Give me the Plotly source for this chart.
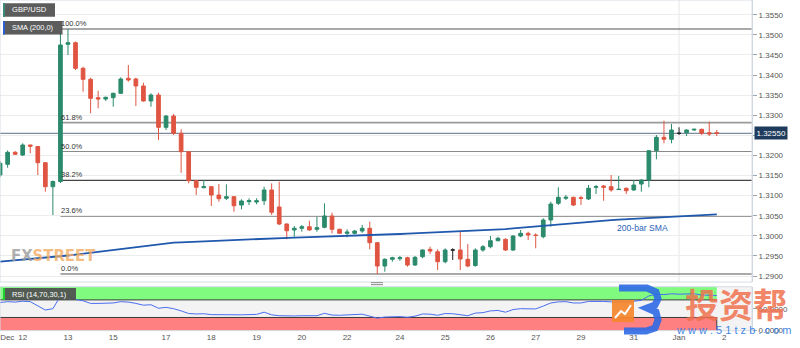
import plotly.graph_objects as go

# GBP/USD 4-hour bars, Dec 11 - Jan 1
bar_open = [1.31513, 1.31779, 1.32077, 1.32010, 1.32259, 1.32222, 1.31819, 1.31222, 1.31351, 1.34764,
            1.34804, 1.34167, 1.33893, 1.33436, 1.33403, 1.33436, 1.33545, 1.33918, 1.33901, 1.33727,
            1.33354, 1.33503, 1.32699, 1.32980, 1.32550, 1.32092, 1.31371, 1.31197, 1.31222, 1.31015,
            1.30933, 1.30973, 1.30766, 1.30849, 1.30841, 1.30873, 1.31140, 1.30717, 1.30294, 1.30145,
            1.30187, 1.30227, 1.30162, 1.30212, 1.30493, 1.30162, 1.30062, 1.30062, 1.30120, 1.30187,
            1.29829, 1.29249, 1.29416, 1.29431, 1.29455, 1.29274, 1.29480, 1.29664, 1.29605, 1.29356,
            1.29647, 1.29647, 1.29416, 1.29261, 1.29647, 1.29729, 1.29878, 1.29913, 1.29647, 1.29995,
            1.30062, 1.30020, 1.29978, 1.30393, 1.30809, 1.30933, 1.30958, 1.30948, 1.30916, 1.31207,
            1.31239, 1.31222, 1.31150, 1.31182, 1.31140, 1.31289, 1.31388, 1.32117, 1.32451, 1.32401,
            1.32550, 1.32565, 1.32632, 1.32650, 1.32565, 1.32566]
bar_high = [1.31861, 1.32122, 1.32110, 1.32301, 1.32266, 1.32234, 1.31836, 1.31376, 1.35045, 1.35145,
            1.34834, 1.34207, 1.33933, 1.33610, 1.33461, 1.33560, 1.33943, 1.34249, 1.33933, 1.33809,
            1.33545, 1.33560, 1.33005, 1.33030, 1.32650, 1.32110, 1.31388, 1.31388, 1.31239, 1.31289,
            1.31281, 1.30990, 1.30908, 1.30933, 1.30933, 1.31222, 1.31306, 1.31346, 1.30311, 1.30244,
            1.30269, 1.30376, 1.30475, 1.30809, 1.30575, 1.30177, 1.30162, 1.30145, 1.30269, 1.30351,
            1.29846, 1.29441, 1.29480, 1.29498, 1.29480, 1.29498, 1.29664, 1.29729, 1.29664, 1.29689,
            1.29689, 1.30120, 1.29796, 1.29689, 1.29771, 1.29995, 1.29978, 1.29938, 1.30020, 1.30145,
            1.30102, 1.30062, 1.30436, 1.30849, 1.31207, 1.31015, 1.30973, 1.30990, 1.31264, 1.31264,
            1.31264, 1.31513, 1.31488, 1.31207, 1.31388, 1.31406, 1.32135, 1.32508, 1.32864, 1.32781,
            1.32699, 1.32650, 1.32664, 1.32664, 1.32839, 1.32632]
bar_low = [1.31463, 1.31694, 1.32010, 1.31985, 1.32053, 1.31513, 1.31097, 1.30518, 1.31314, 1.34498,
           1.34125, 1.33585, 1.33048, 1.33172, 1.33354, 1.33212, 1.33528, 1.33834, 1.33229, 1.33336,
           1.33212, 1.32383, 1.32632, 1.32508, 1.31570, 1.31306, 1.31015, 1.31182, 1.30742, 1.30849,
           1.30891, 1.30600, 1.30659, 1.30766, 1.30784, 1.30766, 1.30518, 1.30269, 1.29913, 1.29978,
           1.30102, 1.30127, 1.30102, 1.30187, 1.30062, 1.30045, 1.29963, 1.30038, 1.30077, 1.29664,
           1.29050, 1.29107, 1.29356, 1.29381, 1.29232, 1.29249, 1.29441, 1.29548, 1.29150, 1.29316,
           1.29398, 1.29150, 1.29217, 1.29232, 1.29605, 1.29689, 1.29863, 1.29622, 1.29622, 1.29963,
           1.29896, 1.29689, 1.29938, 1.30227, 1.30766, 1.30891, 1.30742, 1.30766, 1.30891, 1.31040,
           1.30873, 1.31097, 1.31140, 1.31040, 1.31122, 1.31097, 1.31207, 1.31903, 1.32301, 1.32301,
           1.32508, 1.32483, 1.32615, 1.32508, 1.32483, 1.32483]
bar_close = [1.31804, 1.32077, 1.32028, 1.32259, 1.32227, 1.31819, 1.31222, 1.31351, 1.34747, 1.34804,
             1.34167, 1.33893, 1.33421, 1.33403, 1.33446, 1.33545, 1.33901, 1.33876, 1.33727, 1.33354,
             1.33503, 1.32699, 1.32980, 1.32550, 1.32092, 1.31371, 1.31207, 1.31222, 1.31015, 1.30923,
             1.30973, 1.30749, 1.30866, 1.30873, 1.30873, 1.31140, 1.30585, 1.30294, 1.30127, 1.30187,
             1.30227, 1.30145, 1.30202, 1.30493, 1.30162, 1.30062, 1.30095, 1.30120, 1.30187, 1.29829,
             1.29249, 1.29416, 1.29455, 1.29455, 1.29274, 1.29465, 1.29647, 1.29622, 1.29356, 1.29647,
             1.29647, 1.29423, 1.29249, 1.29647, 1.29729, 1.29878, 1.29938, 1.29647, 1.29995, 1.30062,
             1.30020, 1.30008, 1.30393, 1.30791, 1.30958, 1.30958, 1.30766, 1.30933, 1.31182, 1.31222,
             1.31207, 1.31140, 1.31157, 1.31122, 1.31264, 1.31388, 1.32117, 1.32451, 1.32401, 1.32632,
             1.32550, 1.32632, 1.32650, 1.32550, 1.32533, 1.32550]

# 200-bar simple moving average
sma_200 = [1.29356, 1.29372, 1.29388, 1.29404, 1.29421, 1.29437, 1.29453, 1.29469, 1.29485, 1.29510,
           1.29534, 1.29558, 1.29582, 1.29606, 1.29630, 1.29654, 1.29678, 1.29702, 1.29726, 1.29750,
           1.29774, 1.29798, 1.29821, 1.29830, 1.29839, 1.29848, 1.29857, 1.29866, 1.29875, 1.29884,
           1.29893, 1.29902, 1.29912, 1.29921, 1.29927, 1.29933, 1.29939, 1.29944, 1.29950, 1.29956,
           1.29962, 1.29967, 1.29973, 1.29979, 1.29985, 1.29991, 1.29997, 1.30003, 1.30008, 1.30014,
           1.30020, 1.30028, 1.30036, 1.30045, 1.30053, 1.30061, 1.30069, 1.30077, 1.30086, 1.30094,
           1.30102, 1.30110, 1.30118, 1.30127, 1.30135, 1.30143, 1.30152, 1.30168, 1.30184, 1.30201,
           1.30217, 1.30233, 1.30250, 1.30266, 1.30282, 1.30299, 1.30315, 1.30331, 1.30348, 1.30364,
           1.30381, 1.30391, 1.30401, 1.30412, 1.30422, 1.30432, 1.30443, 1.30453, 1.30463, 1.30473,
           1.30484, 1.30494, 1.30504, 1.30514, 1.30525, 1.30535]

# RSI(14)
rsi_14 = [64, 66, 65, 67, 66, 57, 47, 50, 79, 79,
          71, 68, 62, 62, 62, 63, 66, 65, 62, 58,
          59, 51, 53, 50, 45, 39, 38, 38.5, 36.5, 36,
          36.5, 35, 36, 36.5, 37, 42, 36, 34, 33, 33.5,
          34, 33.5, 34, 39.5, 35.5, 35, 35.5, 36, 37.5, 33,
          28.5, 31, 31.5, 32, 30.5, 33, 38, 37.5, 35, 39,
          38.5, 35.5, 34, 40, 41, 45, 46, 42, 48, 50,
          49.5, 49.5, 56, 63, 65.5, 66, 63, 63, 66.5, 67,
          66.5, 65.5, 65.5, 65, 67, 69, 79, 83, 82, 84,
          83, 84, 84, 81, 81, 80]
rsi_levels = [30, 70]

price_ticks = [1.2900, 1.2950, 1.3000, 1.3050, 1.3100, 1.3150, 1.3200, 1.3250,
               1.3300, 1.3350, 1.3400, 1.3450, 1.3500, 1.3550]
day_tick_pos = [0.95, 3, 9, 15, 22, 28, 34, 40, 46, 53, 59, 65, 71, 77, 84, 90, 96]
day_tick_text = ["Dec", "12", "13", "15", "17", "18", "19", "20", "22", "24", "25",
                 "26", "27", "29", "31", "Jan", "2"]

fib_ratios = [0.0, 0.236, 0.382, 0.5, 0.618, 1.0]
fib_start_bar = 8

# ---------------------------------------------------------------------------
GREEN = "#2b8a6c"
RED = "#e05542"
FONT = "Liberation Sans, Arial, sans-serif"

W_PLOT, H_PLOT = 752, 331          # plot area in pixels (800x348 minus margins)
X_MIN, X_MAX = -0.01, 99.67
Y_MIN, Y_MAX = 1.28851, 1.35866


def px_x(x):
    return x / W_PLOT


def px_y(y):
    return (H_PLOT - y) / H_PLOT


n = len(bar_close)
xs = list(range(n))
doji = [i for i in xs if bar_open[i] == bar_close[i]]
body = [i for i in xs if bar_open[i] != bar_close[i]]
last = bar_close[-1]


def pick(arr, idx):
    return [arr[i] for i in idx]


fig = go.Figure()

fig.add_trace(go.Candlestick(
    x=body, open=pick(bar_open, body), high=pick(bar_high, body),
    low=pick(bar_low, body), close=pick(bar_close, body),
    increasing=dict(line=dict(color=GREEN, width=1), fillcolor=GREEN),
    decreasing=dict(line=dict(color=RED, width=1), fillcolor=RED),
    whiskerwidth=0, showlegend=False, xaxis="x", yaxis="y"))

fig.add_trace(go.Candlestick(
    x=doji, open=pick(bar_open, doji), high=pick(bar_high, doji),
    low=pick(bar_low, doji), close=pick(bar_close, doji),
    increasing=dict(line=dict(color="#222222", width=1), fillcolor="#222222"),
    decreasing=dict(line=dict(color="#222222", width=1), fillcolor="#222222"),
    whiskerwidth=0, showlegend=False, xaxis="x", yaxis="y"))

fig.add_trace(go.Scatter(
    x=xs, y=sma_200, mode="lines", line=dict(color="#1f58ad", width=1.8),
    showlegend=False, hoverinfo="skip", xaxis="x", yaxis="y"))

fig.add_trace(go.Scatter(
    x=xs, y=rsi_14, mode="lines", line=dict(color="#4a6ef0", width=1),
    showlegend=False, hoverinfo="skip", xaxis="x2", yaxis="y2"))

shapes = []
annotations = []

# RSI panel background and overbought / oversold bands
shapes.append(dict(type="rect", xref="x2 domain", yref="y2 domain", x0=0, x1=1, y0=0, y1=1,
                   fillcolor="#f3f3f3", line=dict(width=0), layer="below"))
shapes.append(dict(type="rect", xref="x2", yref="y2", x0=X_MIN, x1=xs[-1], y0=rsi_levels[1], y1=100,
                   fillcolor="#80fb80", line=dict(width=0), layer="below"))
shapes.append(dict(type="rect", xref="x2", yref="y2", x0=X_MIN, x1=xs[-1], y0=0, y1=rsi_levels[0],
                   fillcolor="#ff8080", line=dict(width=0), layer="below"))
for lvl in rsi_levels:
    shapes.append(dict(type="line", xref="x2", yref="y2", x0=X_MIN, x1=xs[-1], y0=lvl, y1=lvl,
                       line=dict(color="#3c3c3c", width=1), layer="below"))
shapes.append(dict(type="line", xref="x2", yref="y2", x0=xs[-1], x1=xs[-1], y0=0, y1=rsi_levels[0],
                   line=dict(color="#3c3c3c", width=1), layer="below"))

# month boundary
jan_pos = day_tick_pos[day_tick_text.index("Jan")]
shapes.append(dict(type="line", xref="x", yref="y domain", x0=jan_pos, x1=jan_pos, y0=0, y1=1,
                   line=dict(color="#e6e6e6", width=1), layer="below"))

# Fibonacci retracement of the swing high/low
swing_hi, swing_lo = max(bar_high), min(bar_low)
fib_colors = {0.0: "#555555", 0.236: "#9a9a9a", 0.382: "#444444",
              0.5: "#8a8a8a", 0.618: "#9a9a9a", 1.0: "#555555"}
fib_widths = {0.0: 1.2, 0.236: 1.6, 0.382: 1.2, 0.5: 1.2, 0.618: 1.6, 1.0: 1.2}
for r in fib_ratios:
    lvl = swing_lo + r * (swing_hi - swing_lo)
    shapes.append(dict(type="line", xref="x", yref="y", x0=fib_start_bar, x1=X_MAX, y0=lvl, y1=lvl,
                       line=dict(color=fib_colors[r], width=fib_widths[r]), layer="below"))
    annotations.append(dict(x=fib_start_bar, y=lvl, xref="x", yref="y", xanchor="left",
                            yanchor="bottom", text=f"{r * 100:.1f}%", showarrow=False,
                            font=dict(family=FONT, size=7.5, color="#333333"), borderpad=0))

# last price line and tag (the tag sits over the axis label at the same level)
shapes.append(dict(type="line", xref="x domain", yref="y", x0=0, x1=1, y0=last, y1=last,
                   line=dict(color="#5a6f88", width=1), layer="below"))
annotations.append(dict(x=px_x(771), y=last, xref="paper", yref="y", xanchor="center",
                        yanchor="middle", text=f"{last:.5f}", showarrow=False,
                        bgcolor="#1e3a5c", font=dict(family=FONT, size=8, color="white"),
                        borderpad=1.5))
price_ticktext = ["" if abs(t - last) < 0.0015 else f"{t:.4f}" for t in price_ticks]

# frames
shapes.append(dict(type="rect", xref="x domain", yref="y domain", x0=0, x1=1, y0=0, y1=1,
                   line=dict(color="#d6dce4", width=1)))
shapes.append(dict(type="rect", xref="x2 domain", yref="y2 domain", x0=0, x1=1, y0=0, y1=1,
                   line=dict(color="#d6dce4", width=1)))
# panel resize grip
for gy in (282.6, 284.6):
    shapes.append(dict(type="line", xref="paper", yref="paper", x0=px_x(371), x1=px_x(383),
                       y0=px_y(gy), y1=px_y(gy), line=dict(color="#9a9a9a", width=1.2)))


# legend tags
def tag(x0, x1, y0, y1, accent, label, size):
    shapes.append(dict(type="rect", xref="paper", yref="paper", x0=px_x(x0), x1=px_x(x1),
                       y0=px_y(y1), y1=px_y(y0), fillcolor="rgba(78,78,78,0.92)",
                       line=dict(width=0)))
    shapes.append(dict(type="rect", xref="paper", yref="paper", x0=px_x(x0), x1=px_x(x0 + 2),
                       y0=px_y(y1), y1=px_y(y0), fillcolor=accent, line=dict(width=0)))
    annotations.append(dict(x=px_x(x0 + 7), y=px_y((y0 + y1) / 2), xref="paper", yref="paper",
                            xanchor="left", yanchor="middle", text=label, showarrow=False,
                            font=dict(family=FONT, size=size, color="white")))


tag(3, 55, 3.3, 16.7, "#3a8a78", "GBP/USD", 7.6)
tag(3, 62.5, 21, 34.5, "#2d5fd0", "SMA (200,0)", 7.4)
tag(3, 76, 288, 300, "#22cc33", "RSI (14,70,30,1)", 7.4)

annotations.append(dict(x=85.2, y=1.30195, xref="x", yref="y", xanchor="center", yanchor="middle",
                        text="200-bar SMA", showarrow=False,
                        font=dict(family=FONT, size=8.6, color="#2a62b8")))

# publisher marks
annotations.append(dict(x=px_x(9), y=px_y(255.5), xref="paper", yref="paper", xanchor="left",
                        yanchor="middle", showarrow=False, opacity=0.8,
                        text="<b><span style='color:#9c9c9c'>FX</span>"
                             "<span style='color:#f2ad66'>STREET</span></b>",
                        font=dict(family="Liberation Sans Narrow, DejaVu Sans Condensed, sans-serif",
                                  size=16.5)))
annotations.append(dict(x=px_x(736), y=px_y(303.5), xref="paper", yref="paper", xanchor="center",
                        yanchor="middle", text="<b>投资帮</b>", showarrow=False, borderpad=0,
                        font=dict(family="Noto Sans CJK SC", size=34, color="rgba(240,112,78,0.85)")))
annotations.append(dict(x=px_x(733), y=px_y(329.5), xref="paper", yref="paper", xanchor="center",
                        yanchor="middle", text="w w w . 5 1 t z b . c o m", showarrow=False,
                        font=dict(family=FONT, size=11, color="rgba(50,125,225,0.95)")))


def pth(points):
    return "M " + " L ".join(f"{px_x(a):.5f},{px_y(b):.5f}" for a, b in points)


logo_blue = [(619, 288), (647, 288), (656, 292), (658, 299), (655, 305), (647, 308),
             (656, 312), (658, 320), (655, 328), (646, 331), (624, 331)]
shapes.append(dict(type="path", xref="paper", yref="paper", path=pth(logo_blue),
                   line=dict(color="rgba(45,105,230,0.9)", width=7)))
shapes.append(dict(type="rect", xref="paper", yref="paper", x0=px_x(612), x1=px_x(634),
                   y0=px_y(322), y1=px_y(300), fillcolor="rgba(245,135,45,0.92)",
                   line=dict(width=0)))
shapes.append(dict(type="path", xref="paper", yref="paper",
                   path=pth([(615, 318), (621, 311), (625, 314), (631, 305)]),
                   line=dict(color="white", width=2)))

fig.update_layout(
    width=800, height=348,
    margin=dict(l=0, r=48, t=0, b=17),
    paper_bgcolor="white", plot_bgcolor="white",
    showlegend=False,
    shapes=shapes, annotations=annotations,
    xaxis=dict(domain=[0, 1], anchor="y", range=[X_MIN, X_MAX], showticklabels=False,
               showgrid=False, zeroline=False, rangeslider=dict(visible=False), fixedrange=True),
    yaxis=dict(domain=[0.148, 1], anchor="x", side="right", range=[Y_MIN, Y_MAX],
               tickvals=price_ticks, ticktext=price_ticktext,
               ticks="outside", ticklen=4, tickcolor="#9aa6b4", showline=True,
               linecolor="#c9d2de", showgrid=True, gridcolor="#ececec", zeroline=False,
               tickfont=dict(family=FONT, size=8, color="#555555")),
    xaxis2=dict(domain=[0, 1], anchor="y2", matches="x", range=[X_MIN, X_MAX],
                tickvals=day_tick_pos, ticktext=day_tick_text, ticks="", showgrid=False,
                zeroline=False, ticklabeloverflow="allow",
                tickfont=dict(family=FONT, size=8, color="#555555")),
    yaxis2=dict(domain=[0.001, 0.1338], anchor="x2", side="right", range=[0, 100],
                tickvals=[0, 50], ticktext=["0.0000", "50.0000"], ticks="outside", ticklen=4,
                tickcolor="#9aa6b4", showgrid=False, zeroline=False, showline=True,
                linecolor="#c9d2de",
                tickfont=dict(family=FONT, size=8, color="#555555")),
)

fig.write_html("out.html")
